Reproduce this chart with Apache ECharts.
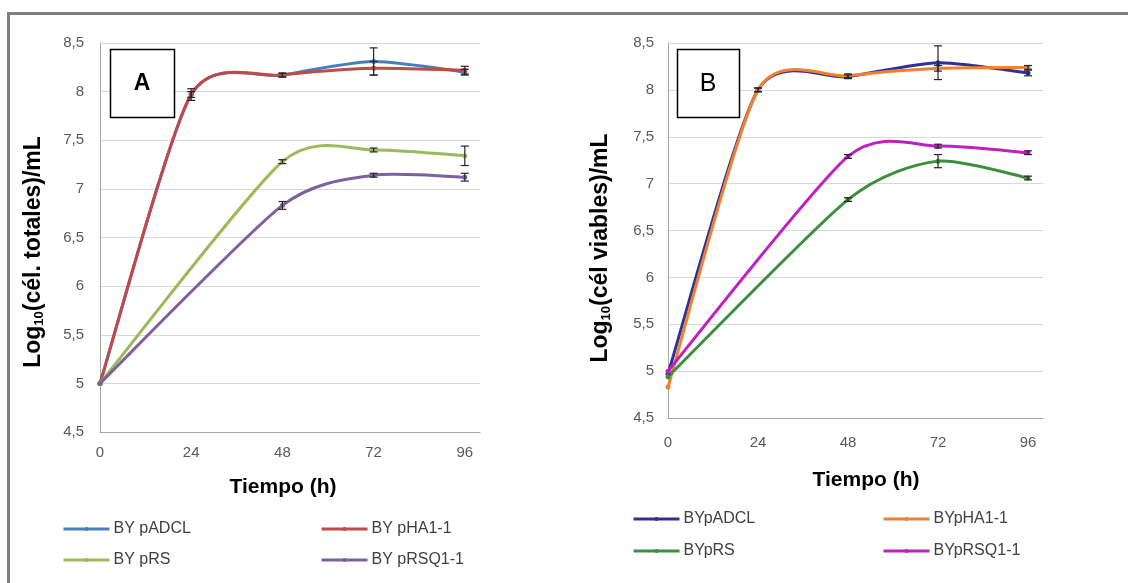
<!DOCTYPE html>
<html>
<head>
<meta charset="utf-8">
<script src="https://cdn.jsdelivr.net/npm/echarts@6/dist/echarts.min.js"></script>
<style>
html,body{margin:0;padding:0;background:#fff;}
#chart{width:1128px;height:583px;}
</style>
</head>
<body>
<div id="chart"></div>
<script>
// ---------- data ----------
const hours = [0, 24, 48, 72, 96];
const hoursShort = [0, 48, 72, 96];   // BYpRS / BYpRSQ1-1 have no 24 h point

// Panel A: Log10(cél. totales)/mL
const namesA = ['BY pADCL', 'BY pHA1-1', 'BY pRS', 'BY pRSQ1-1'];
const a_ADCL = [5.00, 7.97, 8.17, 8.31, 8.20];
const a_HA1  = [5.00, 7.97, 8.17, 8.24, 8.22];
const a_RS   = [5.00, 7.28, 7.40, 7.34];
const a_RSQ1 = [5.00, 6.83, 7.14, 7.12];
const errA_ADCL = [0, 0.03, 0.02, 0.14, 0.03];
const errA_HA1  = [0, 0.06, 0.02, 0.07, 0.04];
const errA_RS   = [0, 0.02, 0.02, 0.10];
const errA_RSQ1 = [0, 0.04, 0.02, 0.04];

// Panel B: Log10(cél viables)/mL
const namesB = ['BYpADCL', 'BYpHA1-1', 'BYpRS', 'BYpRSQ1-1'];
const b_ADCL = [4.97, 8.00, 8.14, 8.29, 8.18];
const b_HA1  = [4.83, 8.00, 8.15, 8.23, 8.24];
const b_RS   = [4.94, 6.83, 7.24, 7.06];
const b_RSQ1 = [5.00, 7.29, 7.40, 7.33];
const errB_ADCL = [0, 0.02, 0.02, 0.18, 0.03];
const errB_HA1  = [0, 0.02, 0.02, 0.03, 0.02];
const errB_RS   = [0, 0.02, 0.07, 0.02];
const errB_RSQ1 = [0, 0.02, 0.02, 0.02];

const colorsA = ['#4A7EBB', '#BE4B48', '#9BBB59', '#7D60A0'];
const colorsB = ['#30309A', '#F08030', '#3C8F3C', '#C020C0'];

// ---------- helpers ----------
const FONT = 'Liberation Sans, Arial, sans-serif';
function pairs(xs, ys) { return xs.map((x, i) => [x, ys[i]]); }
function errPairs(xs, ys, es) {
  return xs.map((x, i) => [x, ys[i], es[i]]).filter(d => d[2] > 0);
}
function renderErr(params, api) {
  const x = api.value(0), y = api.value(1), e = api.value(2);
  const t = api.coord([x, y + e]);
  const b = api.coord([x, y - e]);
  const hw = 4;
  const st = { stroke: '#262626', lineWidth: 1.2 };
  return {
    type: 'group',
    children: [
      { type: 'line', shape: { x1: t[0], y1: t[1], x2: b[0], y2: b[1] }, style: st },
      { type: 'line', shape: { x1: t[0] - hw, y1: t[1], x2: t[0] + hw, y2: t[1] }, style: st },
      { type: 'line', shape: { x1: b[0] - hw, y1: b[1], x2: b[0] + hw, y2: b[1] }, style: st }
    ]
  };
}
// Excel-like smoothed curve (cardinal spline -> cubic Bezier) through the data points,
// positioned through the axes with api.coord.
function curveSeries(xs, ys, color, idx) {
  return {
    type: 'custom', xAxisIndex: idx, yAxisIndex: idx, silent: true, z: 2,
    data: pairs(xs, ys), encode: { x: 0, y: 1 },
    renderItem: function (params, api) {
      if (params.dataIndex !== 0) return { type: 'group', children: [] };
      const p = xs.map((x, i) => api.coord([x, ys[i]]));
      const n = p.length;
      const k = 0.12;
      let d = 'M' + p[0][0] + ',' + p[0][1];
      for (let i = 0; i < n - 1; i++) {
        const p0 = p[Math.max(0, i - 1)], p1 = p[i], p2 = p[i + 1], p3 = p[Math.min(n - 1, i + 2)];
        const c1 = [p1[0] + (p2[0] - p0[0]) * k, p1[1] + (p2[1] - p0[1]) * k];
        const c2 = [p2[0] - (p3[0] - p1[0]) * k, p2[1] - (p3[1] - p1[1]) * k];
        d += ' C' + c1[0] + ',' + c1[1] + ' ' + c2[0] + ',' + c2[1] + ' ' + p2[0] + ',' + p2[1];
      }
      return {
        type: 'path', shape: { pathData: d },
        style: { fill: 'none', stroke: color, lineWidth: 3, lineJoin: 'round', lineCap: 'round' }
      };
    }
  };
}
function lineSeries(name, data, color, idx) {
  return {
    name: name, type: 'line', xAxisIndex: idx, yAxisIndex: idx,
    data: data, symbol: 'circle', symbolSize: 5,
    lineStyle: { color: color, width: 3, opacity: 0 },
    itemStyle: { color: color },
    z: 3
  };
}
function errSeries(data, idx) {
  return {
    type: 'custom', xAxisIndex: idx, yAxisIndex: idx,
    renderItem: renderErr, data: data, z: 4, silent: true,
    encode: { x: 0, y: 1 }
  };
}
function xAxis(idx, margin) {
  return {
    type: 'value', gridIndex: idx, min: 0, max: 100, interval: 24,
    axisLine: { show: true, lineStyle: { color: '#A6A6A6', width: 1 } },
    axisTick: { show: false }, splitLine: { show: false },
    axisLabel: { showMaxLabel: false, color: '#595959', fontSize: 15, fontFamily: FONT, margin: margin }
  };
}
function yAxis(idx, margin) {
  return {
    type: 'value', gridIndex: idx, min: 4.5, max: 8.5, interval: 0.5,
    axisLine: { show: true, lineStyle: { color: '#A6A6A6', width: 1 } },
    axisTick: { show: false },
    splitLine: { show: true, lineStyle: { color: '#D9D9D9', width: 1 } },
    axisLabel: {
      color: '#595959', fontSize: 15, fontFamily: FONT, margin: margin,
      formatter: v => String(v).replace('.', ',')
    }
  };
}
function legendItem(name, left, top) {
  return {
    data: [name], left: left, top: top, padding: 0, itemWidth: 46, itemHeight: 5, itemGap: 0,
    selectedMode: false,
    lineStyle: { opacity: 1, width: 3 },
    textStyle: { fontSize: 16, color: '#404040', fontFamily: FONT, padding: [0, 0, 0, -1] }
  };
}

const chart = echarts.init(document.getElementById('chart'), null, { renderer: 'canvas' });

const option = {
  animation: false,
  backgroundColor: '#ffffff',
  grid: [
    { left: 100, top: 43, width: 380, height: 389 },
    { left: 668, top: 43, width: 375, height: 375 }
  ],
  xAxis: [xAxis(0, 13), xAxis(1, 17)],
  yAxis: [yAxis(0, 16), yAxis(1, 14)],
  legend: [
    legendItem(namesA[0], 62, 521), legendItem(namesA[1], 320, 521),
    legendItem(namesA[2], 62, 552), legendItem(namesA[3], 320, 552),
    legendItem(namesB[0], 632, 511), legendItem(namesB[1], 882, 511),
    legendItem(namesB[2], 632, 543), legendItem(namesB[3], 882, 543)
  ],
  series: [
    curveSeries(hours, a_ADCL, colorsA[0], 0),
    curveSeries(hours, a_HA1, colorsA[1], 0),
    curveSeries(hoursShort, a_RS, colorsA[2], 0),
    curveSeries(hoursShort, a_RSQ1, colorsA[3], 0),
    lineSeries(namesA[0], pairs(hours, a_ADCL), colorsA[0], 0),
    lineSeries(namesA[1], pairs(hours, a_HA1), colorsA[1], 0),
    lineSeries(namesA[2], pairs(hoursShort, a_RS), colorsA[2], 0),
    lineSeries(namesA[3], pairs(hoursShort, a_RSQ1), colorsA[3], 0),
    errSeries(errPairs(hours, a_ADCL, errA_ADCL), 0),
    errSeries(errPairs(hours, a_HA1, errA_HA1), 0),
    errSeries(errPairs(hoursShort, a_RS, errA_RS), 0),
    errSeries(errPairs(hoursShort, a_RSQ1, errA_RSQ1), 0),

    curveSeries(hours, b_ADCL, colorsB[0], 1),
    curveSeries(hours, b_HA1, colorsB[1], 1),
    curveSeries(hoursShort, b_RS, colorsB[2], 1),
    curveSeries(hoursShort, b_RSQ1, colorsB[3], 1),
    lineSeries(namesB[0], pairs(hours, b_ADCL), colorsB[0], 1),
    lineSeries(namesB[1], pairs(hours, b_HA1), colorsB[1], 1),
    lineSeries(namesB[2], pairs(hoursShort, b_RS), colorsB[2], 1),
    lineSeries(namesB[3], pairs(hoursShort, b_RSQ1), colorsB[3], 1),
    errSeries(errPairs(hours, b_ADCL, errB_ADCL), 1),
    errSeries(errPairs(hours, b_HA1, errB_HA1), 1),
    errSeries(errPairs(hoursShort, b_RS, errB_RS), 1),
    errSeries(errPairs(hoursShort, b_RSQ1, errB_RSQ1), 1)
  ],
  graphic: [
    // outer frame (top and left)
    { type: 'rect', shape: { x: 7, y: 12, width: 1121, height: 3 }, style: { fill: '#7F7F7F' }, silent: true },
    { type: 'rect', shape: { x: 7, y: 12, width: 3, height: 571 }, style: { fill: '#7F7F7F' }, silent: true },
    // panel labels
    { type: 'rect', shape: { x: 110.5, y: 49.5, width: 64, height: 68 }, style: { fill: '#fff', stroke: '#000', lineWidth: 1.5 }, z: 10 },
    { type: 'text', x: 142, y: 84, z: 11, style: { text: 'A', font: 'bold 23px ' + FONT, fill: '#000', align: 'center', verticalAlign: 'middle' } },
    { type: 'rect', shape: { x: 677.5, y: 49.5, width: 62, height: 68 }, style: { fill: '#fff', stroke: '#000', lineWidth: 1.5 }, z: 10 },
    { type: 'text', x: 708, y: 84, z: 11, style: { text: 'B', font: '25px ' + FONT, fill: '#000', align: 'center', verticalAlign: 'middle' } },
    // axis titles
    { type: 'text', x: 34, y: 252, rotation: Math.PI / 2, z: 5,
      style: { text: '{m|Log}{s|10}{m|(cél. totales)/mL}', align: 'center', verticalAlign: 'middle',
        rich: { m: { font: 'bold 23px ' + FONT, fill: '#000' }, s: { font: 'bold 13px ' + FONT, fill: '#000', verticalAlign: 'bottom', padding: [8, 0, 0, 0] } } } },
    { type: 'text', x: 601, y: 248, rotation: Math.PI / 2, z: 5,
      style: { text: '{m|Log}{s|10}{m|(cél viables)/mL}', align: 'center', verticalAlign: 'middle',
        rich: { m: { font: 'bold 23px ' + FONT, fill: '#000' }, s: { font: 'bold 13px ' + FONT, fill: '#000', verticalAlign: 'bottom', padding: [8, 0, 0, 0] } } } },
    { type: 'text', x: 283, y: 487, z: 5, style: { text: 'Tiempo (h)', font: 'bold 21px ' + FONT, fill: '#000', align: 'center', verticalAlign: 'middle' } },
    { type: 'text', x: 866, y: 480, z: 5, style: { text: 'Tiempo (h)', font: 'bold 21px ' + FONT, fill: '#000', align: 'center', verticalAlign: 'middle' } }
  ]
};
chart.setOption(option);
</script>
</body>
</html>
